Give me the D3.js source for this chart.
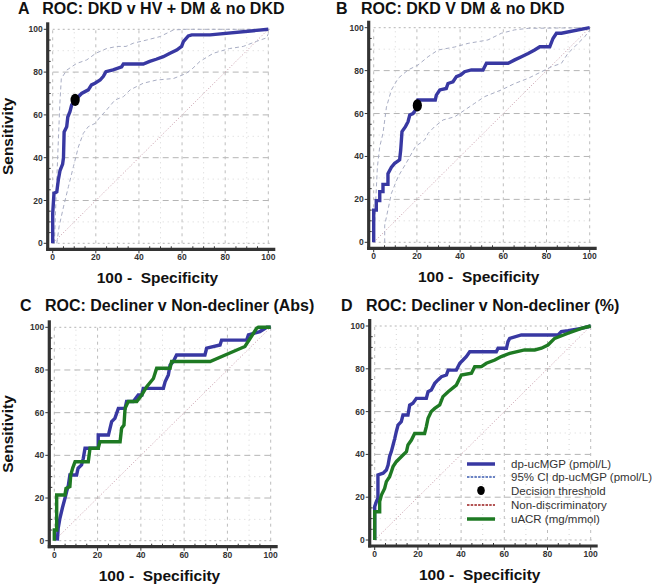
<!DOCTYPE html>
<html>
<head>
<meta charset="utf-8">
<script src="https://cdn.jsdelivr.net/npm/d3@7"></script>
<style>
  html, body { margin: 0; padding: 0; background: #fff; }
  svg { display: block; font-family: "Liberation Sans", Arial, sans-serif; }
</style>
</head>
<body>
<svg id="chart" width="658" height="585"></svg>
<script>
// ---------------- DATA ----------------
const tickValues = [0, 20, 40, 60, 80, 100];
const minorGridValues = [10, 30, 50, 70, 90];
const panelTitles = [
  "A   ROC: DKD v HV + DM & no DKD",
  "B   ROC: DKD V DM & no DKD",
  "C   ROC: Decliner v Non-decliner (Abs)",
  "D   ROC: Decliner v Non-decliner (%)"
];
const xAxisTitle = "100 -  Specificity";
const yAxisTitle = "Sensitivity";
const legendLabels = ["dp-ucMGP (pmol/L)", "95% CI dp-ucMGP (pmol/L)", "Decision threshold", "Non-discriminatory", "uACR (mg/mmol)"];
const diagonal = [[0, 0], [100, 100]];

// Panel A: DKD v HV + DM & no DKD
const aDpucMGP = [[0,0],[0,14],[0.6,23.4],[1.9,24],[2.6,29.6],[3.4,34],[4.6,37],[5,40],[5.3,52],[6.5,54.5],[7,59],[8,61.5],[8.8,64.6],[10.4,67],[11.9,68.5],[13.4,70],[16.5,71.7],[18,74],[19.6,74.8],[22,76.3],[23.5,78],[24.7,80.2],[28,81],[32,82.5],[32.8,83.8],[42,83.8],[45,85],[48,86],[51.3,87.2],[54.4,88.8],[57.5,90.3],[59.8,92],[60.6,94.2],[62.9,96.9],[64.5,97.4],[73,97.4],[100,100]];
const aCiUpper = [[0.8,0],[1.5,20],[2.5,45],[3.3,65],[4,77],[6.5,80.9],[11,84],[15.8,85.7],[20,88.8],[25,91],[29.7,92],[34,92],[37.4,93.5],[43.6,95],[49.8,96.6],[56,99.7],[62,100],[100,100]];
const aCiLower = [[1.9,0],[3,8],[5,17],[7.3,26.5],[9.6,35.8],[11.9,45],[14.2,51.4],[16.5,54.5],[19.6,56],[22,59],[25,62.3],[28.9,67],[32.8,68.5],[35.9,71.7],[42,74.8],[48.2,76.3],[56,77],[62,79.4],[65,81.8],[68.3,85],[74.5,88.8],[82,91],[88.4,92],[94.6,94.4],[99.2,96],[100,98]];
const aThreshold = [[10.4, 67]];

// Panel B: DKD V DM & no DKD
const bDpucMGP = [[0,0],[0,15],[1.2,15],[1.2,19.4],[2.8,19.4],[2.8,23.6],[4.3,23.6],[4.3,27],[6.6,27],[6.6,32],[8.2,35],[9.7,36.8],[12,38.4],[12.5,43],[13.1,51.6],[14.7,53.9],[15.9,56.2],[16.7,59.3],[18.2,60],[19.3,61.6],[20.2,63.8],[20.5,66.3],[28.5,66.3],[29,68.6],[30.6,71],[33.6,71.7],[34.4,74],[36.7,74.8],[38.3,77.2],[40.3,78],[42.1,79.5],[45.2,80.3],[50.6,80.3],[52.2,83.4],[62.2,83.4],[65.3,85],[68.4,86.5],[71.5,88],[74.5,89.6],[76.9,91.1],[81.5,91.1],[83,95],[84.6,97.4],[86.9,97.4],[100,100]];
const bCiUpper = [[0,0],[1.7,35],[2.8,44.6],[4.3,50.8],[5.9,63],[8.2,71],[11.3,76.4],[15.9,80.3],[20.5,82.6],[25.2,86.5],[29.8,89.6],[37.5,91],[43.7,92.7],[52.9,94.3],[59.1,97.4],[65.3,99],[71.5,99.7],[100,100]];
const bCiLower = [[5.1,0],[5.1,8],[8.2,22.8],[11.3,30.6],[15.9,38.4],[19.3,44.6],[23.6,47.7],[25.2,50.8],[28.2,53.9],[32.1,57],[37.5,58.5],[42.1,61.6],[46.8,64.8],[51.4,67.9],[59.1,71],[65.3,74],[71.5,76.4],[76.1,78.7],[82.3,81.8],[86.9,83.4],[89.9,88],[93,91.1],[97.7,95.8],[100,98.9]];
const bThreshold = [[20.2, 63.8]];

// Panel C: Decliner v Non-decliner (Abs)
const cDpucMGP = [[1.4,0],[1.8,5.8],[2.6,10.5],[3.7,15.2],[4.9,19.8],[5.7,23],[6.5,26],[7.2,30.8],[10.3,30.8],[11,34],[12.6,35.5],[13.4,38.6],[14.2,43.3],[20.3,43.3],[20.3,49.5],[25,49.5],[26.5,55.8],[28,57.3],[29.6,62],[32.7,62],[33.4,65.2],[36.5,65.2],[38.8,68.3],[40.5,68.3],[41.1,71.4],[50.4,71.4],[51.2,74.5],[52.7,77.7],[53.5,82.3],[55,84],[56.5,87],[69.6,87],[70.4,90.2],[76.6,91.7],[77.3,94],[88.9,94],[89.7,96.4],[95,98],[98.2,100],[100,100]];
const cUACR = [[0,0],[0,5],[1.1,5],[1.1,21.4],[4.9,21.4],[5.4,24.5],[7.2,25.3],[7.6,30.8],[8.5,34],[9.6,37],[15.7,37],[16.5,43.3],[20.3,43.3],[21.1,46.4],[30.4,46.4],[31.1,52.7],[32.2,54.2],[32.7,62],[34.2,65.2],[38.1,65.2],[40.4,68.3],[42.7,72.2],[45.8,76],[47.3,80.8],[53.5,80.8],[54.2,84],[72,84],[88.1,91],[93.5,99.5],[94.3,100],[100,100]];

// Panel D: Decliner v Non-decliner (%)
const dDpucMGP = [[0,0],[0,15.6],[0.8,18],[1.5,19.5],[1.5,30.4],[3.9,31.2],[5.4,32.7],[6.2,35],[6.9,39],[7.7,41.3],[8.5,44.4],[9.3,47.5],[10,50.6],[10.8,53.7],[12.3,55.3],[13.1,58.4],[15.4,58.4],[16.2,63],[17.7,63.9],[19.3,66.2],[23.9,66.2],[24.7,69.3],[26.2,70.1],[27.8,73.2],[29.3,74.8],[30.9,76.3],[33.2,77.1],[34,79.4],[37.8,79.4],[39.4,82.6],[40.9,84.1],[42.4,85.7],[44,88],[56.3,88],[57.1,89.6],[61,89.6],[61.7,92.7],[62.5,94.2],[67.9,95.8],[84.9,95.8],[86.4,97.4],[89.5,97.8],[95.7,98.9],[100,100]];
const dUACR = [[0,0],[0,13.2],[2.3,13.2],[2.3,17.9],[3.1,21],[4.6,24.1],[5.4,27.3],[6.9,29.6],[7.7,31.9],[8.5,34.3],[10,36.6],[11.6,38.2],[13.1,39.7],[14.7,41.3],[15.4,44.4],[17,46.7],[18.5,49.8],[23.1,49.8],[23.9,53],[24.7,56.9],[26.2,60],[27.8,61.5],[30.1,63.1],[31.6,67],[34,69.3],[37.8,72.4],[40.1,77.1],[44.8,77.9],[46.3,81],[49.4,81],[51.7,82.6],[55.6,84.1],[58.6,85.7],[62.5,87.2],[69.4,88.8],[74.1,88.8],[77.2,89.6],[80.2,91.1],[83.3,94.2],[89.5,96.6],[95.7,98.9],[100,100]];

// ---------------- STYLE / LAYOUT ----------------
const BLUE = "#3838a2", GREEN = "#1e7a23", CI = "#a9aec4", DIAG = "#c79aa8", AXIS = "#333";
const panels = [
  { title: panelTitles[0], tx: 18, ty: 13.5, px: [52.7, 268.3], py: [243.3, 29.3], ylab: true,
    curves: [{d: aCiUpper, t: "ci"}, {d: aCiLower, t: "ci"}, {d: aDpucMGP, t: "blue"}], dots: aThreshold },
  { title: panelTitles[1], tx: 336, ty: 13.5, px: [373.7, 589.7], py: [242.3, 27.7], ylab: false,
    curves: [{d: bCiUpper, t: "ci"}, {d: bCiLower, t: "ci"}, {d: bDpucMGP, t: "blue"}], dots: bThreshold },
  { title: panelTitles[2], tx: 20, ty: 310.5, px: [54.3, 270.7], py: [540.7, 327.3], ylab: true,
    curves: [{d: cDpucMGP, t: "blue"}, {d: cUACR, t: "green"}], dots: [] },
  { title: panelTitles[3], tx: 341, ty: 310.5, px: [374.7, 590.7], py: [540, 326], ylab: false,
    curves: [{d: dDpucMGP, t: "blue"}, {d: dUACR, t: "green"}], dots: [], legend: true }
];

const svg = d3.select("#chart");

panels.forEach(p => {
  const x = d3.scaleLinear().domain([0, 100]).range(p.px);
  const y = d3.scaleLinear().domain([0, 100]).range(p.py);
  const g = svg.append("g");

  // minor dotted grid
  minorGridValues.forEach(v => {
    g.append("line").attr("x1", x(v)).attr("x2", x(v)).attr("y1", y(0)).attr("y2", y(100))
      .attr("stroke", "#d6d6d6").attr("stroke-width", 1).attr("stroke-dasharray", "1,4");
    g.append("line").attr("x1", x(0)).attr("x2", x(100)).attr("y1", y(v)).attr("y2", y(v))
      .attr("stroke", "#d6d6d6").attr("stroke-width", 1).attr("stroke-dasharray", "1,4");
  });
  // major grid
  tickValues.forEach(v => {
    g.append("line").attr("x1", x(v)).attr("x2", x(v)).attr("y1", y(0)).attr("y2", y(100))
      .attr("stroke", "#bdbdbd").attr("stroke-width", 1).attr("stroke-dasharray", "3,4");
    g.append("line").attr("x1", x(0)).attr("x2", x(100) + 2).attr("y1", y(v)).attr("y2", y(v))
      .attr("stroke", "#b5b5b5").attr("stroke-width", 1).attr("stroke-dasharray", v === 0 || v === 100 ? "2,3" : "6,4");
  });

  // diagonal
  const line = d3.line().x(d => x(d[0])).y(d => y(d[1]));
  g.append("path").attr("d", line(diagonal)).attr("fill", "none")
    .attr("stroke", DIAG).attr("stroke-width", 1).attr("stroke-dasharray", "1,2");

  // curves
  p.curves.forEach(c => {
    const path = g.append("path").attr("d", line(c.d)).attr("fill", "none")
      .attr("stroke-linejoin", "miter");
    if (c.t === "ci") path.attr("stroke", CI).attr("stroke-width", 1).attr("stroke-dasharray", "4,3");
    else if (c.t === "blue") path.attr("stroke", BLUE).attr("stroke-width", 3.4);
    else path.attr("stroke", GREEN).attr("stroke-width", 3.4);
  });

  // decision threshold
  p.dots.forEach(d => {
    g.append("ellipse").attr("cx", x(d[0])).attr("cy", y(d[1])).attr("rx", 4.6).attr("ry", 6.2).attr("fill", "#000");
  });

  // axes
  const axL = x(0) - 5, axB = y(0) + 6;
  g.append("line").attr("x1", axL).attr("x2", axL).attr("y1", y(100) - 7).attr("y2", axB + 1.5)
    .attr("stroke", AXIS).attr("stroke-width", 3.2);
  g.append("line").attr("x1", axL - 1.5).attr("x2", x(100) + 7).attr("y1", axB).attr("y2", axB)
    .attr("stroke", AXIS).attr("stroke-width", 3.2);

  const minorTicks = d3.range(0, 101, 5);
  minorTicks.forEach(v => {
    const major = v % 20 === 0;
    g.append("line").attr("x1", axL - (major ? 4 : 0)).attr("x2", axL + (major ? 0 : 3))
      .attr("y1", y(v)).attr("y2", y(v)).attr("stroke", AXIS).attr("stroke-width", 1);
    g.append("line").attr("y1", axB + (major ? 4 : 0)).attr("y2", axB - (major ? 0 : 3))
      .attr("x1", x(v)).attr("x2", x(v)).attr("stroke", AXIS).attr("stroke-width", 1);
  });

  tickValues.forEach(v => {
    g.append("text").attr("x", axL - 5).attr("y", y(v) + 3).attr("text-anchor", "end")
      .attr("font-size", "8.5px").attr("font-weight", "bold").attr("fill", "#333").text(v);
    g.append("text").attr("x", x(v)).attr("y", axB + 11).attr("text-anchor", "middle")
      .attr("font-size", "8.5px").attr("font-weight", "bold").attr("fill", "#333").text(v);
  });

  // titles
  g.append("text").attr("x", p.tx).attr("y", p.ty).attr("font-size", "16px").attr("font-weight", "bold")
    .attr("fill", "#111").style("white-space", "pre").text(p.title);
  g.append("text").attr("x", (p.px[0] + p.px[1]) / 2 - 3).attr("y", axB + 34).attr("text-anchor", "middle")
    .attr("font-size", "15.5px").attr("font-weight", "bold").attr("fill", "#111")
    .style("white-space", "pre").text(xAxisTitle);
  if (p.ylab) {
    const cy = (p.py[0] + p.py[1]) / 2;
    g.append("text").attr("transform", `translate(13,${cy}) rotate(-90)`).attr("text-anchor", "middle")
      .attr("font-size", "15.5px").attr("font-weight", "bold").attr("fill", "#111").text(yAxisTitle);
  }

  if (p.legend) {
    const lx0 = 467, lx1 = 495, tx = 511;
    const rows = [464, 477, 490.5, 505, 519];
    const lg = svg.append("g");
    lg.append("line").attr("x1", lx0).attr("x2", lx1).attr("y1", rows[0]).attr("y2", rows[0]).attr("stroke", BLUE).attr("stroke-width", 3.5);
    lg.append("line").attr("x1", lx0).attr("x2", lx1).attr("y1", rows[1]).attr("y2", rows[1]).attr("stroke", "#3a5bb0").attr("stroke-width", 1.3).attr("stroke-dasharray", "2.5,1.2");
    lg.append("ellipse").attr("cx", (lx0 + lx1) / 2).attr("cy", rows[2]).attr("rx", 3.8).attr("ry", 4.6).attr("fill", "#000");
    lg.append("line").attr("x1", lx0).attr("x2", lx1).attr("y1", rows[3]).attr("y2", rows[3]).attr("stroke", "#9b1c1c").attr("stroke-width", 1.3).attr("stroke-dasharray", "2.5,1.2");
    lg.append("line").attr("x1", lx0).attr("x2", lx1).attr("y1", rows[4]).attr("y2", rows[4]).attr("stroke", GREEN).attr("stroke-width", 3.5);
    legendLabels.forEach((t, i) => {
      lg.append("text").attr("x", tx).attr("y", rows[i] + 4).attr("font-size", "11.5px").attr("fill", "#333").text(t);
    });
  }
});
</script>
</body>
</html>
